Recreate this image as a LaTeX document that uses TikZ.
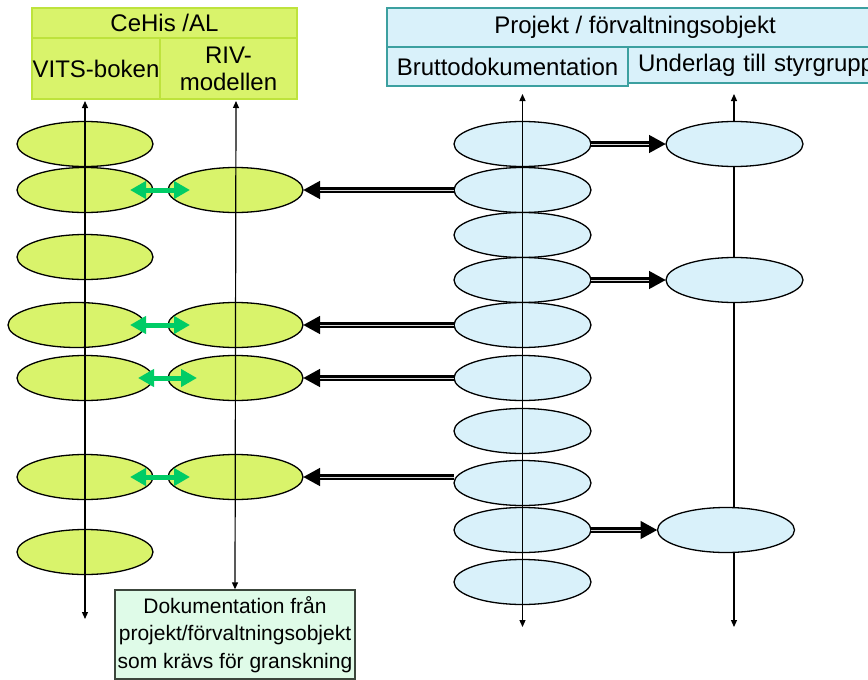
\documentclass[tikz,border=0pt]{standalone}
\usepackage{fontspec}
\setmainfont{Liberation Sans}
\usetikzlibrary{arrows.meta,shapes.geometric}
\definecolor{limefill}{RGB}{217,243,107}
\definecolor{limeline}{RGB}{190,227,60}
\definecolor{skyfill}{RGB}{217,241,250}
\definecolor{skyline}{RGB}{60,160,160}
\definecolor{mintfill}{RGB}{223,251,232}
\definecolor{mintline}{RGB}{60,70,60}
\definecolor{linkgreen}{RGB}{0,204,102}
\definecolor{corestripe}{RGB}{215,215,215}
\begin{document}
\begin{tikzpicture}[x=1pt,y=-1pt,
  cell/.style={draw, line width=1.5pt, inner sep=0pt, outer sep=0pt,
    font=\fontsize{24}{27}\selectfont},
  gcell/.style={cell, draw=limeline, fill=limefill},
  bcell/.style={cell, draw=skyline, fill=skyfill},
  oval/.style={ellipse, draw=black, line width=1.3pt, minimum width=136pt,
    minimum height=45pt, inner sep=0pt, outer sep=0pt},
  loval/.style={oval, fill=limefill},
  boval/.style={oval, fill=skyfill},
  axis/.style={line width=1.2pt,
    {Triangle[length=7pt,width=6pt]}-{Triangle[length=7pt,width=6pt]}},
  flow/.style={line width=5.5pt, -{Triangle[length=17pt,width=17pt]}},
  flowcore/.style={corestripe, line width=1pt, shorten >=17pt},
  link/.style={linkgreen, line width=5pt,
    {Triangle[length=16pt,width=17pt]}-{Triangle[length=16pt,width=17pt]}}
]
\useasboundingbox (0,0) rectangle (868,680);
\fill[white] (0,0) rectangle (868,680);

% header: CeHis /AL
\node[gcell, minimum width=265pt, minimum height=30pt] (cehis) at (164.5,23) {CeHis /AL};
\node[gcell, minimum width=128pt, minimum height=61pt] (vits) at (96,68.5) {VITS-boken};
\node[gcell, minimum width=137pt, minimum height=61pt, align=center] (riv) at (228.5,68.5) {RIV-\\modellen};

% header: Projekt / förvaltningsobjekt
\node[bcell, minimum width=496pt, minimum height=39pt] (projekt) at (635,27.5) {Projekt / förvaltningsobjekt};
\node[bcell, minimum width=241pt, minimum height=39pt] (brutto) at (507.5,66.5) {Bruttodokumentation};
\node[bcell, minimum height=36pt, text width=260pt, inner xsep=10pt, align=left] (underlag) at (768,65) {Underlag till styrgrupp};

% bottom note
\node[draw=mintline, fill=mintfill, line width=1.3pt, minimum width=240pt, minimum height=89pt,
  inner sep=0pt, align=center, font=\fontsize{21}{27.5}\selectfont] (doc) at (235,634.5)
  {Dokumentation från\\projekt/förvaltningsobjekt\\som krävs för granskning};

% axis end points
\coordinate (vtop) at (85,101);
\coordinate (vbot) at (85,619);
\coordinate (rtop) at (236,101);
\coordinate (btop) at (522.5,94);
\coordinate (bbot) at (522.5,627);
\coordinate (utop) at (734,94);
\coordinate (ubot) at (734,627);

% the right-hand axis runs behind its ovals
\draw[axis] (utop) -- (ubot);

% left column
\node[loval] (L1) at (85,144) {};
\node[loval] (L2) at (85,190) {};
\node[loval] (L3) at (85,257) {};
\node[loval, minimum width=137pt] (L4) at (76.5,325) {};
\node[loval] (L5) at (85,378) {};
\node[loval] (L6) at (85,477) {};
\node[loval] (L7) at (85,552) {};

% RIV column
\node[loval, minimum width=135pt] (R1) at (235.5,190) {};
\node[loval, minimum width=135pt] (R2) at (235.5,325) {};
\node[loval, minimum width=135pt] (R3) at (235.5,378) {};
\node[loval, minimum width=135pt] (R4) at (235.5,477) {};

% Bruttodokumentation column
\node[boval, minimum width=137pt] (B1) at (522.5,144) {};
\node[boval, minimum width=137pt] (B2) at (522.5,190) {};
\node[boval, minimum width=137pt] (B3) at (522.5,235) {};
\node[boval, minimum width=137pt] (B4) at (522.5,280) {};
\node[boval, minimum width=137pt] (B5) at (522.5,325) {};
\node[boval, minimum width=137pt] (B6) at (522.5,378) {};
\node[boval, minimum width=137pt] (B7) at (522.5,431) {};
\node[boval, minimum width=137pt] (B8) at (522.5,483) {};
\node[boval, minimum width=137pt] (B9) at (522.5,530) {};
\node[boval, minimum width=137pt] (B10) at (522.5,582) {};

% Underlag column
\node[boval, minimum width=137pt] (U1) at (734.5,144) {};
\node[boval, minimum width=137pt] (U2) at (734.5,280) {};
\node[boval, minimum width=137pt] (U3) at (726,530) {};

% axes drawn over their ovals
\draw[axis] (vtop) -- (vbot);
\draw[axis] (rtop) -- (doc.north);
\draw[axis] (btop) -- (bbot);

% Bruttodokumentation -> RIV
\draw[flow] (B2.west) -- (R1.east);
\draw[flowcore] (B2.west) -- (R1.east);
\draw[flow] (B5.west) -- (R2.east);
\draw[flowcore] (B5.west) -- (R2.east);
\draw[flow] (B6.west) -- (R3.east);
\draw[flowcore] (B6.west) -- (R3.east);
\draw[flow] (B8.west |- R4.east) -- (R4.east);
\draw[flowcore] (B8.west |- R4.east) -- (R4.east);

% Bruttodokumentation -> Underlag
\draw[flow] (B1.east) -- (U1.west);
\draw[flowcore] (B1.east) -- (U1.west);
\draw[flow] (B4.east) -- (U2.west);
\draw[flowcore] (B4.east) -- (U2.west);
\draw[flow] (B9.east) -- (U3.west);
\draw[flowcore] (B9.east) -- (U3.west);

% VITS <-> RIV links
\draw[link] ([xshift=-23pt]L2.east) -- ([xshift=22pt]R1.west);
\draw[link] ([xshift=-15pt]L4.east) -- ([xshift=22pt]R2.west);
\draw[link] ([xshift=-15pt]L5.east) -- ([xshift=29pt]R3.west);
\draw[link] ([xshift=-23pt]L6.east) -- ([xshift=22pt]R4.west);
\end{tikzpicture}
\end{document}
